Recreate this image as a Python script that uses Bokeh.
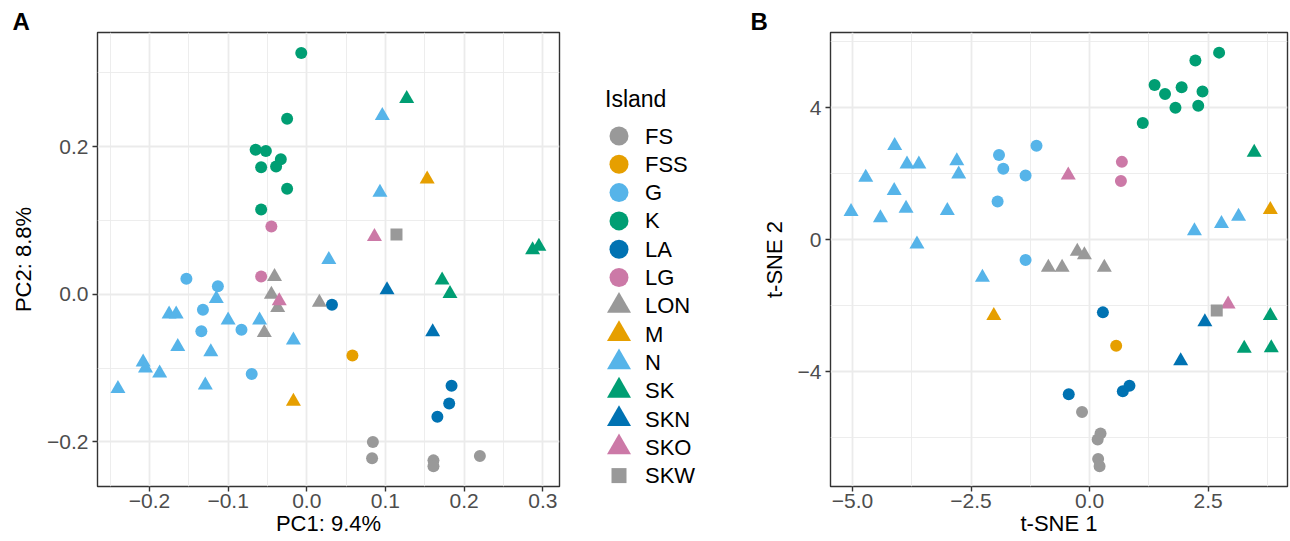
import math
from bokeh.plotting import figure
from bokeh.layouts import row
from bokeh.models import Range1d, FixedTicker, Div
from bokeh.embed import file_html
from bokeh.resources import INLINE

# ---------------- data ----------------
ISLANDS = ["FS", "FSS", "G", "K", "LA", "LG", "LON", "M", "N", "SK", "SKN", "SKO", "SKW"]
ISLAND_COLORS = ["#999999", "#E69F00", "#56B4E9", "#009E73", "#0072B2", "#CC79A7",
                 "#999999", "#E69F00", "#56B4E9", "#009E73", "#0072B2", "#CC79A7",
                 "#999999"]
ISLAND_MARKERS = ["circle"] * 6 + ["triangle"] * 6 + ["square"]

PCA_ISLAND = (["K"] * 9 + ["LG"] * 2 + ["SK"] * 5 + ["N"] * 16 + ["M"] * 2 + ["SKO"] * 2 +
              ["SKW"] + ["G"] * 6 + ["LON"] * 5 + ["LA"] * 4 + ["SKN"] * 2 + ["FSS"] + ["FS"] * 5)
PCA_1 = [-0.007, -0.025, -0.065, -0.052, -0.033, -0.058, -0.039, -0.025, -0.058,
         -0.045, -0.058,
         0.127, 0.287, 0.295, 0.172, 0.182,
         0.096, 0.093, 0.028, -0.115, -0.175, -0.166, -0.100, -0.060, -0.017, -0.164,
         -0.122, -0.208, -0.205, -0.187, -0.129, -0.240,
         0.153, -0.017,
         0.086, -0.035,
         0.114,
         -0.153, -0.113, -0.132, -0.083, -0.134, -0.070,
         -0.041, -0.045, -0.037, 0.016, -0.054,
         0.032, 0.184, 0.181, 0.166,
         0.102, 0.160,
         0.058,
         0.084, 0.083, 0.161, 0.161, 0.220]
PCA_2 = [0.327, 0.238, 0.196, 0.194, 0.183, 0.172, 0.173, 0.143, 0.115,
         0.092, 0.024,
         0.265, 0.060, 0.065, 0.019, 0.001,
         0.242, 0.138, 0.047, -0.006, -0.027, -0.027, -0.035, -0.035, -0.062, -0.071,
         -0.078, -0.092, -0.100, -0.107, -0.123, -0.128,
         0.156, -0.145,
         0.078, -0.009,
         0.081,
         0.021, 0.011, -0.021, -0.048, -0.050, -0.108,
         0.024, 0.000, -0.018, -0.011, -0.052,
         -0.014, -0.124, -0.148, -0.166,
         0.006, -0.051,
         -0.083,
         -0.200, -0.222, -0.225, -0.233, -0.219]

TSNE_ISLAND = (["N"] * 16 + ["G"] * 6 + ["LON"] * 5 + ["K"] * 9 + ["LG"] * 2 + ["SKO"] * 2 +
               ["SK"] * 4 + ["M"] * 2 + ["LA"] * 4 + ["FSS"] + ["SKN"] * 2 + ["SKW"] + ["FS"] * 5)
TSNE_1 = [-4.11, -3.85, -3.60, -2.80, -2.76, -4.72, -4.12, -5.03, -4.41, -3.87, -3.00, -3.64,
          -2.26, 2.21, 2.78, 3.14,
          -1.91, -1.82, -1.12, -1.35, -1.94, -1.35,
          -0.26, -0.11, -0.87, -0.58, 0.31,
          2.73, 2.23, 1.37, 1.59, 1.94, 2.38, 1.81, 2.29, 1.12,
          0.68, 0.66,
          -0.45, 2.92,
          3.47, 3.81, 3.26, 3.83,
          3.81, -2.02,
          0.28, -0.44, 0.70, 0.84,
          0.56,
          2.43, 1.92,
          2.68,
          -0.16, 0.23, 0.17, 0.18, 0.21]
TSNE_2 = [2.85, 2.29, 2.29, 2.39, 1.99, 1.89, 1.49, 0.85, 0.66, 0.95, 0.88, -0.13,
          -1.14, 0.27, 0.49, 0.71,
          2.57, 2.15, 2.85, 1.95, 1.16, -0.61,
          -0.35, -0.46, -0.84, -0.84, -0.84,
          5.67, 5.43, 4.69, 4.42, 4.62, 4.49, 4.00, 4.06, 3.54,
          2.36, 1.78,
          1.96, -1.95,
          2.65, -2.30, -3.29, -3.28,
          0.91, -2.30,
          -2.20, -4.68, -4.59, -4.42,
          -3.21,
          -2.49, -3.67,
          -2.14,
          -5.22, -5.87, -6.05, -6.64, -6.86]

PCA_X_TICKS = [-0.2, -0.1, 0.0, 0.1, 0.2, 0.3]
PCA_X_LABELS = ["\u22120.2", "\u22120.1", "0.0", "0.1", "0.2", "0.3"]
PCA_Y_TICKS = [-0.2, 0.0, 0.2]
PCA_Y_LABELS = ["\u22120.2", "0.0", "0.2"]
TSNE_X_TICKS = [-5.0, -2.5, 0.0, 2.5]
TSNE_X_LABELS = ["\u22125.0", "\u22122.5", "0.0", "2.5"]
TSNE_Y_TICKS = [-4, 0, 4]
TSNE_Y_LABELS = ["\u22124", "0", "4"]

# ---------------- style ----------------
FONT = "Liberation Sans"
PLOT_SIZE = {"circle": 12, "triangle": 15, "square": 12}
LEG_SIZE = {"circle": 19, "triangle": 24, "square": 15}
FIG_H = 540
BORDER_TOP, BORDER_BOTTOM = 32, 54


def minor_of(ticks):
    step = ticks[1] - ticks[0]
    return [t - step / 2 for t in ticks] + [ticks[-1] + step / 2]


def make_panel(width, bl, br, xr, yr, xt, xl, yt, yl,
               gx, gy, gi, letter, letter_dx, xtitle, ytitle):
    p = figure(width=width, height=FIG_H, output_backend="svg", toolbar_location=None,
               x_range=Range1d(*xr), y_range=Range1d(*yr),
               min_border_left=bl, min_border_right=br,
               min_border_top=BORDER_TOP, min_border_bottom=BORDER_BOTTOM,
               title=letter)
    p.title.align = "left"
    p.title.offset = letter_dx
    p.title.standoff = -5
    p.title.text_font = FONT
    p.title.text_font_size = "24px"
    p.title.text_font_style = "bold"
    p.title.text_color = "black"
    p.background_fill_color = "white"
    p.border_fill_color = "white"
    p.outline_line_color = "#333333"
    p.outline_line_width = 1.4
    p.xaxis.ticker = FixedTicker(ticks=xt, minor_ticks=minor_of(xt))
    p.yaxis.ticker = FixedTicker(ticks=yt, minor_ticks=minor_of(yt))
    p.xaxis.major_label_overrides = dict(zip(xt, xl))
    p.yaxis.major_label_overrides = dict(zip(yt, yl))
    p.xaxis.axis_label = xtitle
    p.yaxis.axis_label = ytitle
    for ax in (p.xaxis[0], p.yaxis[0]):
        ax.axis_line_color = None
        ax.major_tick_line_color = "#333333"
        ax.major_tick_line_width = 1.4
        ax.major_tick_out = 5
        ax.major_tick_in = 0
        ax.minor_tick_line_color = None
        ax.major_label_text_font = FONT
        ax.major_label_text_font_size = "21px"
        ax.major_label_text_color = "#4D4D4D"
        ax.axis_label_text_font = FONT
        ax.axis_label_text_font_size = "22px"
        ax.axis_label_text_font_style = "normal"
        ax.axis_label_text_color = "black"
    p.xaxis.major_label_standoff = 2
    p.yaxis.major_label_standoff = 4
    p.xaxis.axis_label_standoff = 0
    p.yaxis.axis_label_standoff = 8
    for g in (p.xgrid[0], p.ygrid[0]):
        g.grid_line_color = "#EBEBEB"
        g.grid_line_width = 1.8
        g.minor_grid_line_color = "#EBEBEB"
        g.minor_grid_line_width = 0.9
    for isl, col, mk in zip(ISLANDS, ISLAND_COLORS, ISLAND_MARKERS):
        xs = [x for x, i in zip(gx, gi) if i == isl]
        ys = [y for y, i in zip(gy, gi) if i == isl]
        if xs:
            p.scatter(xs, ys, marker=mk, size=PLOT_SIZE[mk], fill_color=col, line_color=None)
    return p


pA = make_panel(565, 97, 6, (-0.266, 0.3212), (-0.2604, 0.3547),
                PCA_X_TICKS, PCA_X_LABELS, PCA_Y_TICKS, PCA_Y_LABELS,
                PCA_1, PCA_2, PCA_ISLAND, "A", -85, "PC1: 9.4%", "PC2: 8.8%")

pB = make_panel(549, 90, 2, (-5.463, 4.172), (-7.476, 6.28),
                TSNE_X_TICKS, TSNE_X_LABELS, TSNE_Y_TICKS, TSNE_Y_LABELS,
                TSNE_1, TSNE_2, TSNE_ISLAND, "B", -80, "t-SNE 1", "t-SNE 2")

# legend (shared by both panels) as an SVG block between the panels
LEG_W = 175
MK_X, TXT_X, ROW0, ROW_STEP = 54, 80, 136, 28.3
parts = ['<svg xmlns="http://www.w3.org/2000/svg" width="%d" height="%d" style="display:block">'
         % (LEG_W, FIG_H),
         '<text x="40" y="106.7" font-family="%s" font-size="23px" fill="black">Island</text>' % FONT]
for i, (isl, col, mk) in enumerate(zip(ISLANDS, ISLAND_COLORS, ISLAND_MARKERS)):
    cy = ROW0 + ROW_STEP * i
    s = LEG_SIZE[mk]
    if mk == "circle":
        parts.append('<circle cx="%g" cy="%g" r="%g" fill="%s"/>' % (MK_X, cy, s / 2, col))
    elif mk == "triangle":
        r = s / 2
        h = r * math.sqrt(3)
        pts = "%g,%g %g,%g %g,%g" % (MK_X - r, cy + h / 3, MK_X + r, cy + h / 3, MK_X, cy - 2 * h / 3)
        parts.append('<polygon points="%s" fill="%s"/>' % (pts, col))
    else:
        parts.append('<rect x="%g" y="%g" width="%g" height="%g" fill="%s"/>'
                     % (MK_X - s / 2, cy - s / 2, s, s, col))
    parts.append('<text x="%g" y="%g" font-family="%s" font-size="22px" fill="black">%s</text>'
                 % (TXT_X, cy + 7.5, FONT, isl))
parts.append("</svg>")
legend = Div(text="".join(parts), width=LEG_W, height=FIG_H, margin=0)

layout = row(pA, legend, pB)
open("out.html", "w").write(file_html(layout, INLINE))
